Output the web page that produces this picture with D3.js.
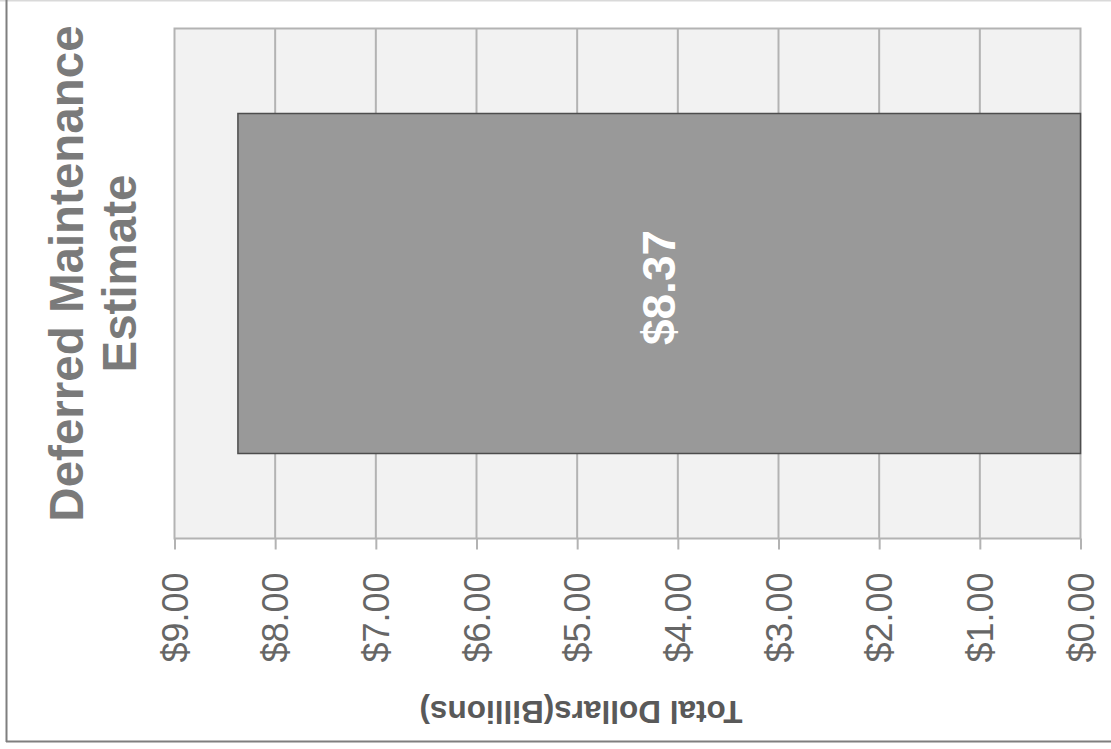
<!DOCTYPE html>
<html>
<head>
<meta charset="utf-8">
<script src="https://cdn.jsdelivr.net/npm/d3@7"></script>
<style>
  html, body { margin: 0; padding: 0; background: #fff; }
  svg { display: block; font-family: "Liberation Sans", Arial, sans-serif; }
</style>
</head>
<body>
<svg id="chart" width="1111" height="749"></svg>
<script>
// Chart data
const categories = ["Deferred Maintenance Estimate"];
const values = [8.37];
const tickValues = [9, 8, 7, 6, 5, 4, 3, 2, 1, 0];
const titleLines = ["Deferred Maintenance", "Estimate"];
const axisTitle = "Total Dollars(Billions)";

const svg = d3.select("#chart");

// Frame around the chart
svg.append("line").attr("x1", 0).attr("x2", 1111).attr("y1", 0.5).attr("y2", 0.5)
  .attr("stroke", "#d9d9d9").attr("stroke-width", 2);
svg.append("line").attr("x1", 6.5).attr("x2", 6.5).attr("y1", 0).attr("y2", 742)
  .attr("stroke", "#7f7f7f").attr("stroke-width", 2);
svg.append("line").attr("x1", 6).attr("x2", 1111).attr("y1", 741.5).attr("y2", 741.5)
  .attr("stroke", "#7f7f7f").attr("stroke-width", 2);

const plot = { left: 174.5, right: 1080.5, top: 28.5, bottom: 538.5 };

// Value axis runs from 9 on the left to 0 on the right
const x = d3.scaleLinear().domain([9, 0]).range([plot.left, plot.right]);
const y = d3.scaleBand().domain(categories).range([plot.top, plot.bottom]).paddingInner(0).paddingOuter(0.25);

// Plot background
svg.append("rect")
  .attr("x", plot.left).attr("y", plot.top)
  .attr("width", plot.right - plot.left).attr("height", plot.bottom - plot.top)
  .attr("fill", "#f2f2f2").attr("stroke", "#b3b3b3").attr("stroke-width", 2);

// Vertical gridlines
svg.append("g")
  .selectAll("line")
  .data(tickValues.filter(d => d !== 9 && d !== 0))
  .join("line")
  .attr("x1", d => x(d)).attr("x2", d => x(d))
  .attr("y1", plot.top).attr("y2", plot.bottom)
  .attr("stroke", "#b3b3b3").attr("stroke-width", 2);

// Bottom axis with rotated labels
const axis = d3.axisBottom(x)
  .tickValues(tickValues)
  .tickSize(11)
  .tickFormat(d => "$" + d3.format(".2f")(d));

const axisG = svg.append("g")
  .attr("transform", `translate(0,${plot.bottom})`)
  .call(axis);
axisG.select(".domain").remove();
axisG.selectAll(".tick line").attr("stroke", "#b3b3b3").attr("stroke-width", 2);
axisG.selectAll(".tick text")
  .attr("fill", "#666666")
  .style("font-size", "36px")
  .attr("transform", "rotate(-90)")
  .attr("x", -34)
  .attr("y", 0)
  .attr("dy", "0.35em")
  .attr("text-anchor", "end");

// Bar
svg.append("g")
  .selectAll("rect")
  .data(values)
  .join("rect")
  .attr("x", d => x(d))
  .attr("y", (d, i) => y(categories[i]))
  .attr("width", d => x(0) - x(d))
  .attr("height", y.bandwidth())
  .attr("fill", "#999999")
  .attr("stroke", "#4d4d4d")
  .attr("stroke-width", 1.5);

// Value label inside the bar
svg.append("g")
  .selectAll("text")
  .data(values)
  .join("text")
  .attr("transform", (d, i) => `translate(${(x(d) + x(0)) / 2},${y(categories[i]) + y.bandwidth() / 2 + 4}) rotate(-90)`)
  .attr("text-anchor", "middle")
  .attr("dy", "0.35em")
  .attr("fill", "#ffffff")
  .style("font-size", "46px")
  .style("font-weight", "bold")
  .text(d => "$" + d3.format(".2f")(d));

// Axis title (upside down)
svg.append("text")
  .attr("transform", "translate(581,712) rotate(180)")
  .attr("text-anchor", "middle")
  .attr("dy", "0.35em")
  .attr("fill", "#595959")
  .style("font-size", "31.5px")
  .style("font-weight", "bold")
  .text(axisTitle);

// Chart title, rotated
const titleG = svg.append("text")
  .attr("transform", "translate(0,273.5) rotate(-90)")
  .attr("text-anchor", "middle")
  .attr("fill", "#7a7a7a")
  .style("font-size", "47.5px")
  .style("font-weight", "bold");
titleG.selectAll("tspan")
  .data(titleLines)
  .join("tspan")
  .attr("x", 0)
  .attr("y", (d, i) => 83 + i * 53)
  .text(d => d);
</script>
</body>
</html>
